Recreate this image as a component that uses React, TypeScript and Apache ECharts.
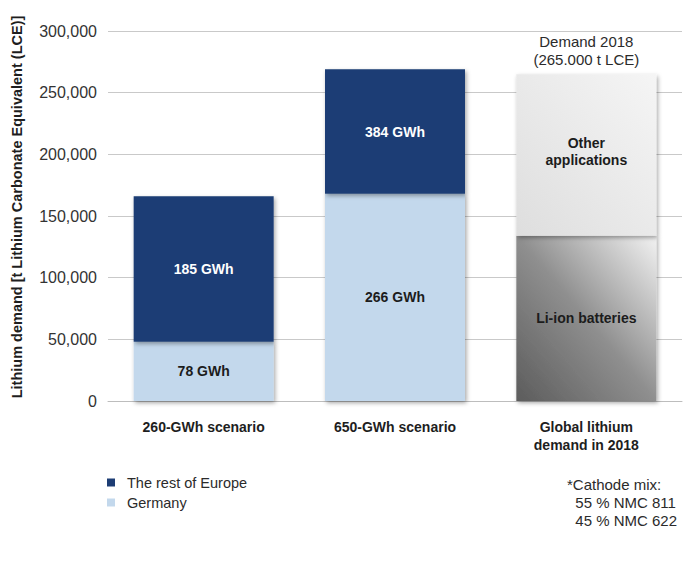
import React, { useEffect, useRef } from "react";
import * as echarts from "echarts";

const categories = ["260-GWh scenario", "650-GWh scenario", "Global lithium\ndemand in 2018"];
const germany = [48000, 168000, null];
const restOfEurope = [118000, 101000, null];
const germanyLabels = ["78 GWh", "266 GWh", ""];
const restLabels = ["185 GWh", "384 GWh", ""];
const liIonBatteries = [null, null, 134000];
const otherApplications = [null, null, 131000];
const demandTitle = [null, null, 0];
const demandTitleText = "Demand 2018\n(265.000 t LCE)";
const yMin = 0;
const yMax = 300000;
const yInterval = 50000;

const FONT = "'Liberation Sans', Arial, Helvetica, sans-serif";

export default function App() {
  const ref = useRef<HTMLDivElement>(null);

  useEffect(() => {
    if (!ref.current) return;
    const chart = echarts.init(ref.current, null, { renderer: "svg" });
    const shadow = {
      shadowColor: "rgba(0,0,0,0.35)",
      shadowBlur: 4,
      shadowOffsetX: 1.5,
      shadowOffsetY: 2,
    };
    const option: any = {
      animation: false,
      backgroundColor: "#ffffff",
      textStyle: { fontFamily: FONT },
      grid: { left: 108, right: 9, top: 31, bottom: 172, containLabel: false },
      legend: {
        data: ["The rest of Europe", "Germany"],
        orient: "vertical",
        left: 102,
        top: 470,
        icon: "rect",
        itemWidth: 8,
        itemHeight: 8,
        itemGap: 5,
        textStyle: { fontSize: 14.5, color: "#2b2b2b", fontFamily: FONT, padding: [0, 0, 0, 7] },
      },
      xAxis: {
        type: "category",
        data: categories,
        axisLine: { show: true, lineStyle: { color: "#bdbdbd", width: 1 } },
        axisTick: { show: false },
        axisLabel: {
          fontSize: 14,
          fontWeight: "bold",
          color: "#1e1e1e",
          margin: 17,
          lineHeight: 18,
          fontFamily: FONT,
        },
      },
      yAxis: {
        type: "value",
        min: yMin,
        max: yMax,
        interval: yInterval,
        axisLine: { show: false },
        axisTick: { show: false },
        splitLine: { lineStyle: { color: "#c9c9c9", width: 1 } },
        axisLabel: {
          fontSize: 16,
          color: "#333333",
          margin: 11,
          fontFamily: FONT,
          formatter: (v: number) => v.toLocaleString("en-US"),
        },
      },
      series: [
        {
          name: "Germany",
          type: "bar",
          stack: "total",
          barWidth: 140,
          data: germany,
          itemStyle: { color: "#c3d8ec", ...shadow },
          label: {
            show: true,
            position: "inside",
            fontSize: 14,
            fontWeight: "bold",
            color: "#1c1c1c",
            fontFamily: FONT,
            formatter: (p: any) => germanyLabels[p.dataIndex],
          },
        },
        {
          name: "The rest of Europe",
          type: "bar",
          stack: "total",
          barWidth: 140,
          data: restOfEurope,
          itemStyle: { color: "#1d3d74", ...shadow },
          label: {
            show: true,
            position: "inside",
            fontSize: 14,
            fontWeight: "bold",
            color: "#ffffff",
            fontFamily: FONT,
            formatter: (p: any) => restLabels[p.dataIndex],
          },
        },
        {
          name: "Li-ion batteries",
          type: "bar",
          stack: "total",
          barWidth: 140,
          data: liIonBatteries,
          itemStyle: {
            color: new echarts.graphic.LinearGradient(0, 1, 1, 0, [
              { offset: 0, color: "#5c5c5c" },
              { offset: 0.5, color: "#8f8f8f" },
              { offset: 1, color: "#f2f2f2" },
            ]),
            ...shadow,
          },
          label: {
            show: true,
            position: "inside",
            fontSize: 14,
            fontWeight: "bold",
            color: "#1c1c1c",
            fontFamily: FONT,
            formatter: "Li-ion batteries",
          },
        },
        {
          name: "Other applications",
          type: "bar",
          stack: "total",
          barWidth: 140,
          data: otherApplications,
          itemStyle: {
            color: new echarts.graphic.LinearGradient(0, 1, 1, 0, [
              { offset: 0, color: "#dedede" },
              { offset: 1, color: "#f5f5f5" },
            ]),
            ...shadow,
          },
          label: {
            show: true,
            position: "inside",
            offset: [0, -3],
            fontSize: 14,
            fontWeight: "bold",
            lineHeight: 17,
            color: "#1c1c1c",
            fontFamily: FONT,
            formatter: "Other\napplications",
          },
        },
        {
          name: "Demand title",
          type: "bar",
          stack: "total",
          barWidth: 140,
          data: demandTitle,
          itemStyle: { color: "transparent" },
          label: {
            show: true,
            position: "top",
            distance: 6,
            fontSize: 15,
            lineHeight: 18,
            color: "#2b2b2b",
            fontFamily: FONT,
            formatter: demandTitleText,
          },
        },
      ],
      graphic: [
        {
          type: "text",
          x: 17,
          y: 207,
          rotation: Math.PI / 2,
          style: {
            text: "Lithium demand [t Lithium Carbonate Equivalent (LCE)]",
            fontSize: 14.5,
            fontWeight: "bold",
            fontFamily: FONT,
            fill: "#1e1e1e",
            align: "center",
            verticalAlign: "middle",
          },
        },
        {
          type: "text",
          left: 567,
          top: 475,
          style: {
            text: "*Cathode mix:\n  55 % NMC 811\n  45 % NMC 622",
            fontSize: 15,
            lineHeight: 18,
            fontFamily: FONT,
            fill: "#2b2b2b",
          },
        },
      ],
    };
    chart.setOption(option);
    return () => chart.dispose();
  }, []);

  return (
    <div
      ref={ref}
      style={{ position: "fixed", left: 0, top: 0, width: 691, height: 573, background: "#fff" }}
    />
  );
}
